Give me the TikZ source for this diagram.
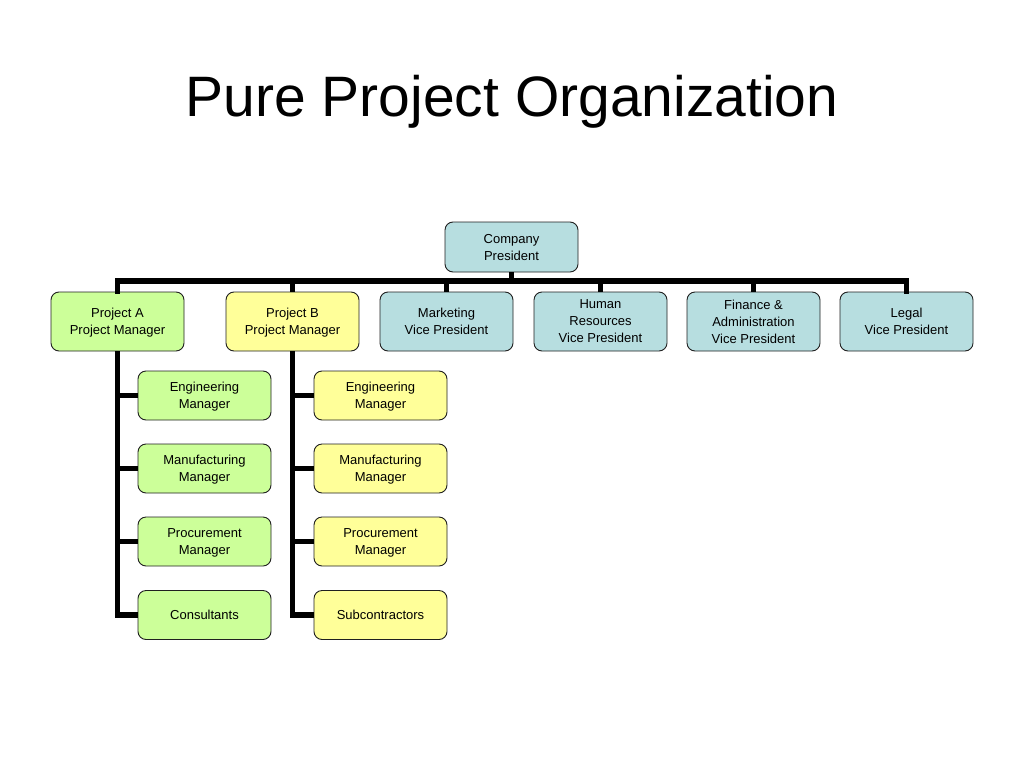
\documentclass[tikz,border=0pt]{standalone}
\usepackage{fontspec}
\setmainfont{Liberation Sans}
\definecolor{boxgreen}{HTML}{CCFF99}
\definecolor{boxyellow}{HTML}{FFFF99}
\definecolor{boxblue}{HTML}{B7DEE0}
\definecolor{edgegray}{HTML}{202020}
\begin{document}
\begin{tikzpicture}[x=1pt,y=-1pt,
  orgbox/.style={draw=edgegray,line width=0.9pt,rounded corners=8pt,minimum width=133pt,align=center,
    font=\fontsize{13}{17}\selectfont,inner sep=0pt,text depth=-4pt},
  topbox/.style={orgbox,minimum height=59pt},
  subbox/.style={orgbox,minimum height=49pt},
  presbox/.style={orgbox,minimum height=50pt},
  link/.style={line width=5.5pt,black}]
\useasboundingbox (0,0) rectangle (1024,768);
\fill[white] (0,0) rectangle (1024,768);
\node[anchor=base,font=\fontsize{57}{60}\selectfont] (title) at (512,116) {Pure Project Organization};

\node[presbox,fill=boxblue] (pres) at (511.5,247) {Company\\President};

\node[topbox,fill=boxgreen] (pa) at (117.5,321.5) {Project A\\Project Manager};
\node[topbox,fill=boxyellow] (pb) at (292.5,321.5) {Project B\\Project Manager};
\node[topbox,fill=boxblue] (mk) at (446.5,321.5) {Marketing\\Vice President};
\node[topbox,fill=boxblue] (hr) at (600.5,321.5) {Human\\Resources\\Vice President};
\node[topbox,fill=boxblue] (fa) at (753.5,321.5) {Finance \&\\Administration\\Vice President};
\node[topbox,fill=boxblue] (lg) at (906.5,321.5) {Legal\\Vice President};

\node[subbox,fill=boxgreen] (a1) at (204.5,395.5) {Engineering\\Manager};
\node[subbox,fill=boxgreen] (a2) at (204.5,468.5) {Manufacturing\\Manager};
\node[subbox,fill=boxgreen] (a3) at (204.5,541.5) {Procurement\\Manager};
\node[subbox,fill=boxgreen] (a4) at (204.5,615) {Consultants};

\node[subbox,fill=boxyellow] (b1) at (380.5,395.5) {Engineering\\Manager};
\node[subbox,fill=boxyellow] (b2) at (380.5,468.5) {Manufacturing\\Manager};
\node[subbox,fill=boxyellow] (b3) at (380.5,541.5) {Procurement\\Manager};
\node[subbox,fill=boxyellow] (b4) at (380.5,615) {Subcontractors};

\coordinate (bar) at (511.5,281);
\draw[link] (pres.south) -- (bar);
\draw[link,line cap=rect] (pa.north) |- (bar) -| (lg.north);
\foreach \n in {pb,mk,hr,fa} \draw[link] (\n.north) -- (\n.north |- bar);
\draw[link] (pa.south) |- (a4.west);
\foreach \n in {a1,a2,a3} \draw[link] (\n.west) -- (\n.west -| pa.south);
\draw[link] (pb.south) |- (b4.west);
\foreach \n in {b1,b2,b3} \draw[link] (\n.west) -- (\n.west -| pb.south);
\end{tikzpicture}
\end{document}
